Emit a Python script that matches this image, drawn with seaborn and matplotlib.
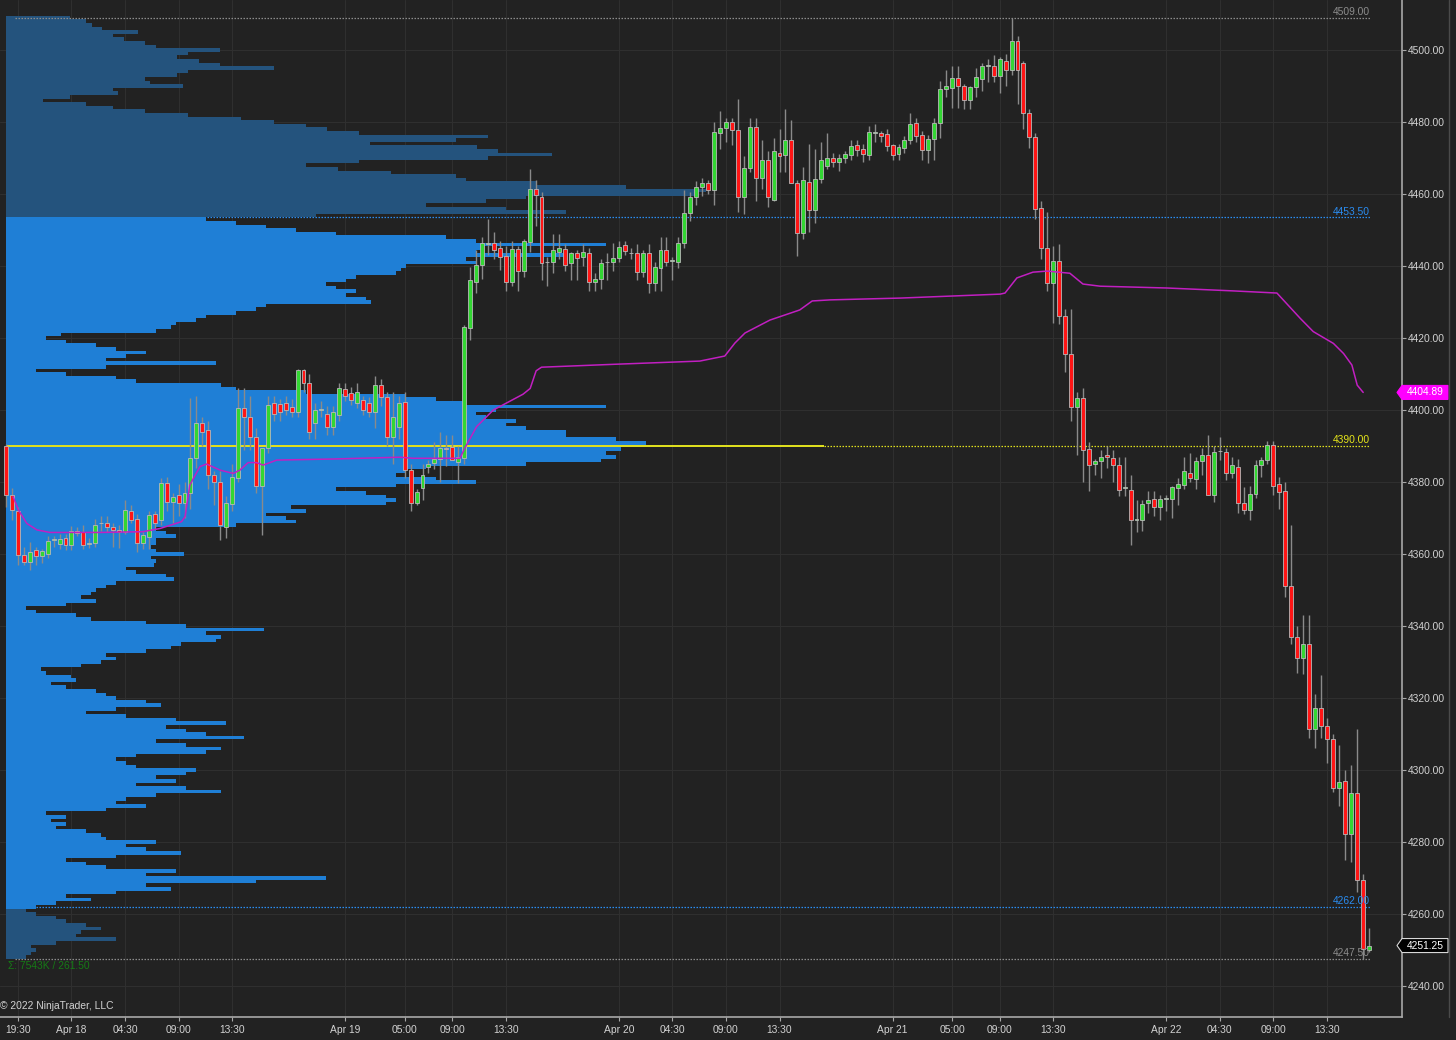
"""
ES 30 minute chart with session volume profile and VWAP, NinjaTrader look.
"""

import matplotlib
matplotlib.use("Agg")
import matplotlib.pyplot as plt
import matplotlib.transforms as mtransforms
from matplotlib.patches import Polygon
from matplotlib.lines import Line2D
import numpy as np
import seaborn as sns

# ---------------------------------------------------------------- data
bar_open = [
    4390, 4376.5, 4372, 4359.75, 4357.75, 4361, 4359.5, 4360, 4364, 4362.75,
    4364.5, 4362.5, 4366.5, 4366, 4362.75, 4363, 4368.5, 4368.5, 4367.5, 4366.75,
    4366, 4372, 4369.75, 4363, 4364.75, 4371, 4369.5, 4379.75, 4374.5, 4376.5,
    4374.25, 4377, 4386.75, 4396.5, 4394.5, 4382, 4380, 4367.5, 4374, 4381,
    4400.5, 4398, 4392.5, 4379, 4389.5, 4402, 4401.75, 4402, 4400.75, 4399.5,
    4411, 4407.5, 4396.5, 4400, 4399, 4395.25, 4398.5, 4405.75, 4404.75, 4402,
    4402.75, 4402, 4399.5, 4407, 4403.5, 4392.5, 4395.25, 4402.25, 4383.25, 4374.25,
    4378.25, 4384.25, 4385.25, 4386.5, 4389.5, 4389.75, 4385.5, 4386.75, 4422.75, 4435.5,
    4440.25, 4446.25, 4446.5, 4445, 4442.75, 4435.5, 4444.75, 4438.75, 4446.75, 4461.5,
    4459.25, 4441, 4441, 4444, 4444.75, 4440.75, 4443.5, 4442.5, 4443.5, 4435.5,
    4436.5, 4441, 4441, 4442.25, 4445.75, 4443.5, 4443.5, 4438.25, 4443.5, 4435.25,
    4439.5, 4444.5, 4441.5, 4441, 4446.5, 4454.75, 4459.25, 4462, 4463, 4461,
    4477, 4478.25, 4480, 4477.75, 4459.25, 4467.25, 4478.5, 4464.5, 4469.5, 4458.25,
    4471.5, 4470.75, 4475, 4463, 4449.25, 4463.25, 4455.5, 4464.25, 4467.75, 4470,
    4469, 4470, 4470.75, 4473.5, 4472.5, 4470.75, 4477, 4477, 4476.75, 4473.5,
    4471, 4472.75, 4475, 4479.75, 4476.5, 4472.25, 4475.25, 4479.75, 4489.25, 4489.5,
    4492.25, 4490, 4486, 4489.75, 4492, 4495.5, 4495.5, 4492.75, 4497, 4494.5,
    4502.5, 4496.5, 4482.5, 4475.75, 4456, 4445, 4435.25, 4441.5, 4426, 4415.5,
    4400.75, 4403.25, 4389.25, 4385, 4385.75, 4387.5, 4386.75, 4384.75, 4378.25, 4377.75,
    4369.5, 4369.5, 4374.25, 4375.25, 4373, 4375.25, 4375.25, 4378.25, 4379.25, 4382.5,
    4380.75, 4385.75, 4387.5, 4376.5, 4388.5, 4388.25, 4382.5, 4384.25, 4374.25, 4372.25,
    4376.75, 4384.75, 4386.25, 4390.25, 4379.5, 4377.5, 4351, 4337, 4331.25, 4335,
    4311.5, 4317.25, 4312.25, 4308.5, 4295, 4297, 4282.25, 4293.5, 4269.5, 4250,
]
bar_high = [
    4390.5, 4378.25, 4373, 4362, 4363.25, 4362, 4361.5, 4365, 4365, 4365.5,
    4365.5, 4367.75, 4367.5, 4368, 4364.5, 4369.75, 4370.5, 4370.5, 4368.5, 4368,
    4375, 4373.5, 4371, 4366, 4372, 4372, 4381, 4381.5, 4377, 4379.5,
    4380, 4403.25, 4404, 4398, 4397, 4383, 4383, 4376, 4385, 4406,
    4406, 4404, 4395, 4389.5, 4404, 4404, 4403, 4404, 4403, 4411.5,
    4411.5, 4410, 4402, 4402.5, 4401, 4401, 4407.5, 4407.5, 4406.5, 4407.5,
    4404, 4403.5, 4409.5, 4408.5, 4405, 4405, 4404, 4405, 4385, 4378,
    4385, 4386, 4391, 4394, 4393, 4393, 4390, 4423.75, 4439.75, 4444.5,
    4448, 4453, 4449.5, 4447, 4445.5, 4447, 4445.5, 4447.5, 4467, 4464,
    4460.5, 4442.5, 4449, 4449, 4446, 4444, 4444.5, 4446, 4445, 4438,
    4442, 4443.5, 4446.5, 4447, 4447, 4445, 4446, 4444.5, 4446, 4441,
    4448, 4448, 4442.5, 4448, 4461, 4460.5, 4463.5, 4464.5, 4464, 4480,
    4483, 4481, 4481, 4486.5, 4470.5, 4481, 4481, 4475, 4472, 4475.5,
    4478, 4483.5, 4480.5, 4464, 4467.5, 4474, 4472.5, 4474.5, 4477, 4471.5,
    4471, 4472, 4475, 4475, 4474, 4479, 4479.5, 4477.5, 4478, 4474,
    4474, 4476, 4482.5, 4481, 4477.5, 4476.5, 4481, 4491.5, 4494.5, 4495.5,
    4495.5, 4490.5, 4490, 4495, 4496.5, 4497.5, 4498.5, 4498, 4499, 4509,
    4504, 4497, 4483.5, 4477, 4458, 4455, 4445.5, 4446, 4428, 4428,
    4405, 4406, 4391, 4386.5, 4389, 4390, 4389, 4387, 4387, 4382,
    4375, 4375, 4377.5, 4377.5, 4376.5, 4376.5, 4379, 4381, 4387, 4388,
    4387, 4389.5, 4393, 4390, 4392.5, 4389.5, 4387, 4386.5, 4378.5, 4379,
    4386, 4387, 4391.5, 4391.5, 4381.5, 4380, 4368, 4340, 4343, 4343,
    4321, 4326.5, 4314.5, 4310, 4307, 4300, 4301.5, 4311.5, 4271, 4256,
]
bar_low = [
    4373, 4369.5, 4357, 4357, 4355.5, 4357, 4357.5, 4359, 4362, 4361.5,
    4361.25, 4361, 4365, 4361.5, 4361.75, 4362, 4366.5, 4366, 4362, 4361.75,
    4365.5, 4368.5, 4360.5, 4361.5, 4361.5, 4367, 4368, 4372, 4368.5, 4370.5,
    4370, 4372.5, 4384, 4390, 4378, 4373.5, 4364, 4364.5, 4372, 4380,
    4389, 4389, 4377, 4365.25, 4388, 4397, 4397, 4398.5, 4398, 4398,
    4405, 4392, 4392, 4398, 4393, 4393, 4397, 4402.5, 4401.5, 4400.5,
    4398.5, 4398, 4395, 4401, 4390, 4385, 4392, 4381, 4372, 4373.5,
    4375, 4382.5, 4383.5, 4380, 4384.5, 4386, 4379.75, 4385, 4419.5, 4432.5,
    4436.5, 4443, 4442, 4439, 4433, 4434.5, 4433, 4437, 4444, 4451,
    4436, 4434.5, 4438, 4442, 4438.5, 4436, 4436, 4440, 4433, 4433,
    4433.5, 4436, 4438.5, 4441, 4443, 4442, 4436, 4437, 4432.5, 4433,
    4433, 4440, 4436, 4439.5, 4445, 4452.5, 4457, 4459.5, 4460, 4457,
    4472.5, 4474.5, 4473.5, 4455, 4454.5, 4466, 4458, 4461.5, 4456.5, 4458,
    4466, 4466, 4463, 4442.75, 4447.5, 4449.5, 4452, 4463, 4467, 4467.5,
    4466.5, 4468.5, 4469.5, 4470.5, 4469, 4469.5, 4474.5, 4474.5, 4472, 4469.5,
    4469.5, 4471.5, 4474, 4474.5, 4469.5, 4468.5, 4469.5, 4475.5, 4487, 4484,
    4484, 4483.5, 4483.5, 4487, 4488.5, 4491, 4491, 4488, 4490, 4493,
    4485, 4478, 4472.75, 4453, 4442, 4433, 4424.25, 4424, 4410.5, 4397,
    4387.5, 4380, 4377.5, 4382, 4381, 4384, 4380, 4376, 4376, 4362.5,
    4366, 4366.5, 4371.5, 4370.5, 4369.5, 4372, 4370, 4373.5, 4378, 4380,
    4378, 4382, 4376.5, 4374.5, 4386, 4380.5, 4381, 4371.5, 4371, 4369.5,
    4375.5, 4381.5, 4385, 4376.5, 4372.5, 4348, 4335, 4327, 4326.75, 4309,
    4306, 4309, 4302, 4294, 4290, 4275, 4274.5, 4266, 4247.5, 4249.5,
]
bar_close = [
    4376.5, 4372.25, 4359.75, 4357.75, 4360.5, 4359.5, 4360.75, 4363.5, 4364.25, 4364.25,
    4362.5, 4366.5, 4365.75, 4362.5, 4363, 4368, 4368.5, 4367.5, 4366.75, 4366.25,
    4372.25, 4369.5, 4363, 4365.25, 4370.75, 4368.5, 4379.75, 4374.5, 4375.75, 4374.25,
    4377, 4386.75, 4396.5, 4394, 4382, 4380, 4368, 4374.25, 4381.5, 4400.5,
    4398, 4392.5, 4379, 4389.5, 4401.5, 4399, 4399.5, 4400, 4399.5, 4411,
    4407.5, 4394, 4400, 4400.25, 4395.25, 4399.5, 4406, 4404, 4402.75, 4405,
    4400, 4399.5, 4407, 4403.5, 4392.5, 4398, 4402, 4383.25, 4374.25, 4377.25,
    4382, 4385, 4386.5, 4389.5, 4389.25, 4386, 4387, 4423, 4436, 4440.25,
    4446.5, 4446.5, 4444.5, 4442.5, 4435.5, 4444.75, 4438.75, 4447, 4461.5, 4459.75,
    4440.75, 4441.25, 4444.5, 4445, 4440.25, 4443.5, 4442.25, 4444, 4435.5, 4436.5,
    4440.75, 4441.25, 4442.25, 4445.25, 4444.25, 4443.75, 4438.25, 4443.5, 4435.25, 4439.75,
    4444.5, 4441, 4441.75, 4446.5, 4454.75, 4459.25, 4462, 4463, 4461, 4477.25,
    4478.25, 4480, 4477.75, 4459.25, 4467.25, 4478.5, 4464.5, 4469.5, 4459.25, 4472,
    4470.5, 4475, 4463, 4449.25, 4464, 4455.5, 4464.25, 4469.5, 4470, 4469,
    4470, 4471, 4473.25, 4472.25, 4471, 4477.25, 4477, 4476, 4473.25, 4470.75,
    4473, 4475, 4479.5, 4476, 4472.25, 4475.25, 4479.75, 4489.25, 4490, 4492.25,
    4490, 4486, 4489.75, 4492.5, 4495.5, 4495.75, 4492.75, 4497.5, 4494.5, 4502.5,
    4494.5, 4482.5, 4475.75, 4455.75, 4445, 4435.25, 4441.5, 4426, 4415.5, 4400.75,
    4403.25, 4389, 4384.75, 4385.75, 4387, 4387, 4384.75, 4377.75, 4378.25, 4369.5,
    4369.5, 4374, 4375, 4373, 4375.25, 4375.5, 4378.5, 4379.5, 4383, 4381,
    4385.75, 4387.5, 4376.5, 4388.25, 4388.75, 4382.5, 4384.75, 4374.25, 4372.25, 4376.75,
    4384.75, 4386.25, 4390.25, 4379, 4377.25, 4351, 4337, 4331.25, 4335, 4311.5,
    4317.25, 4312.25, 4308.75, 4295, 4296.75, 4282.25, 4293.5, 4269.5, 4250.25, 4251.25,
]

# volume profile, one row per 1.0 point from the session low upward (relative volume)
profile_vol = [
    20, 25, 30, 25, 50, 110, 70, 75, 95, 80,
    60, 50, 30, 20, 30, 50, 85, 60, 110, 165,
    140, 250, 320, 140, 170, 100, 80, 60, 110, 175,
    140, 120, 150, 100, 95, 80, 50, 60, 45, 60,
    40, 100, 140, 110, 120, 150, 215, 180, 130, 170,
    150, 180, 190, 130, 120, 110, 130, 200, 215, 180,
    150, 238, 200, 180, 160, 220, 170, 120, 80, 110,
    155, 140, 110, 100, 90, 60, 45, 70, 65, 40,
    35, 75, 95, 110, 100, 140, 165, 175, 210, 215,
    200, 258, 180, 140, 85, 70, 30, 20, 60, 90,
    75, 85, 90, 100, 110, 168, 160, 130, 120, 148,
    150, 145, 178, 150, 145, 150, 150, 170, 160, 150,
    230, 290, 280, 260, 300, 285, 380, 390, 380, 360,
    330, 390, 470, 430, 390, 400, 420, 520, 595, 610,
    600, 615, 818, 640, 610, 560, 560, 520, 500, 510,
    480, 470, 490, 600, 460, 430, 400, 300, 230, 215,
    130, 110, 60, 30, 100, 210, 100, 120, 140, 110,
    90, 60, 40, 55, 150, 165, 170, 190, 200, 230,
    250, 260, 365, 360, 340, 350, 330, 320, 340, 350,
    390, 395, 400, 470, 460, 560, 470, 475, 600, 470,
    440, 330, 290, 260, 230, 200, 310, 560, 500, 420,
    480, 520, 690, 700, 620, 530, 460, 450, 385, 332,
    300, 353, 482, 546, 492, 471, 364, 450, 482, 353,
    321, 300, 268, 235, 182, 139, 107, 80, 37, 64,
    112, 107, 177, 144, 139, 171, 182, 268, 214, 193,
    171, 182, 214, 150, 139, 118, 107, 132, 96, 86,
    80, 64,
]
session_low = 4247.5
session_high = 4509.0
value_area_low = 4262.0
value_area_high = 4453.5
poc_price = 4390.0
total_volume_k = 7543

# VWAP (bar index, price)
vwap_bar = [1.2, 2.1, 3.5, 5.2, 7.4, 15.8, 23, 25.9, 29.5, 30.1,
            30.9, 32.6, 33.7, 36, 38.2, 39.3, 40.7, 42.1, 43.2, 45.5,
            55, 66.2, 68.4, 76.3, 77.1, 79.1, 81.9, 86.9, 88.1, 89.1,
            90, 102.1, 116.6, 120.8, 122.5, 124.2, 128.4, 133.4, 135.5, 138.5,
            150.3, 167.1, 167.9, 169.9, 172.6, 175, 178.8, 181, 183.9, 195.1,
            206.2, 213.6, 217.5, 219.7, 223.1, 224.8, 226.2, 227.1, 228.1]
vwap_val = [4375.9, 4372.2, 4368.5, 4366.7, 4366, 4366, 4366.2, 4367.1, 4369, 4370.4,
            4379.2, 4384.3, 4385, 4383.3, 4382.4, 4383.3, 4385.4, 4385.4, 4384.7, 4386.1,
            4386.4, 4386.9, 4386.6, 4386.6, 4389.4, 4395.4, 4400, 4404.4, 4406, 4410.9,
            4411.9, 4412.7, 4413.6, 4415, 4418.6, 4421.4, 4425, 4427.8, 4430.3, 4430.6,
            4431.1, 4432.2, 4432.5, 4436.7, 4438.3, 4438.6, 4438, 4435, 4434.4, 4433.9,
            4433.1, 4432.5, 4425.5, 4421.8, 4418.5, 4415.7, 4412.5, 4406.9, 4404.89]
vwap_last = 4404.89
last_price = 4251.25

tick_bars = [2, 11, 20, 29, 38, 57, 67, 75, 84, 103, 112, 121, 130,
             149, 159, 167, 176, 195, 204, 213, 222]
tick_labels = ["19:30", "Apr 18", "04:30", "09:00", "13:30", "Apr 19", "05:00",
               "09:00", "13:30", "Apr 20", "04:30", "09:00", "13:30", "Apr 21",
               "05:00", "09:00", "13:30", "Apr 22", "04:30", "09:00", "13:30"]
price_ticks = [4240, 4260, 4280, 4300, 4320, 4340, 4360, 4380, 4400,
               4420, 4440, 4460, 4480, 4500]

# ---------------------------------------------------------------- style
BG = "#222222"
GRID = "#2f2f2f"
TXT = "#d2d2d2"
AXIS = "#a8a8a8"
VA_BLUE = "#1f7fd6"
OUT_BLUE = "#24537d"
POC_YELLOW = "#dede1e"
LEVEL_BLUE = "#2a8cf0"
LEVEL_GRAY = "#8c8c8c"
UP = "#33d633"
DOWN = "#ff1515"
VWAP = "#c21fc2"

sns.set_theme(style="dark", rc={
    "axes.facecolor": BG,
    "figure.facecolor": BG,
    "savefig.facecolor": BG,
    "axes.edgecolor": AXIS,
    "grid.color": GRID,
})
plt.rcParams["font.family"] = ["Liberation Sans Narrow", "Liberation Sans", "DejaVu Sans"]
FS = 7.4

W, H = 1456, 1040
fig = plt.figure(figsize=(W / 100, H / 100), dpi=100)
ax = fig.add_axes([0, 23 / H, 1402 / W, 1017 / H])

bar_px = 5.95  # pixel spacing between bars
ax.set_xlim(-6 / bar_px, 1396 / bar_px)
ax.set_ylim(4231.4, 4513.9)

# grid
ax.set_xticks(tick_bars)
ax.set_xticklabels(tick_labels)
ax.set_yticks(price_ticks)
ax.set_yticklabels([f"{p:.2f}" for p in price_ticks])
ax.grid(True, color=GRID, linewidth=0.8, zorder=0)
ax.set_axisbelow(True)

n_bars = len(bar_open)
line_end = n_bars - 0.8

# ---------------------------------------------------------------- volume profile
levels = session_low + 0.5 + np.arange(len(profile_vol))
vol = np.array(profile_vol, dtype=float)
colors = np.where((levels >= value_area_low) & (levels <= value_area_high), VA_BLUE, OUT_BLUE).astype(object)
poc_idx = int(np.argmin(np.abs(levels - poc_price)))
colors[poc_idx] = POC_YELLOW
# the POC row is drawn thin, its neighbours close the gap
row_h = np.ones(len(vol))
row_y = levels.copy()
row_h[poc_idx] = 0.55
for nb, sign in ((poc_idx - 1, 1), (poc_idx + 1, -1)):
    row_h[nb] = 1.225
    row_y[nb] += sign * 0.1125
ax.barh(row_y, vol / bar_px, height=row_h, left=0, color=list(colors),
        linewidth=0, antialiased=False, zorder=2)

# value area edges (under the profile) and session extremes
for price in (value_area_high, value_area_low):
    ax.hlines(price, 0, line_end, colors=LEVEL_BLUE, linestyles=(0, (1.2, 1.2)),
              linewidth=0.9, zorder=1)
for price in (session_high, session_low):
    ax.hlines(price, 1.5, line_end, colors=LEVEL_GRAY, linestyles=(0, (1.2, 1.2)),
              linewidth=0.9, zorder=3)
poc_len = vol[poc_idx] / bar_px
ax.hlines(poc_price, poc_len, line_end, colors=POC_YELLOW, linestyles=(0, (1.2, 1.2)),
          linewidth=0.9, zorder=3)

for price, col in ((session_high, LEVEL_GRAY), (value_area_high, LEVEL_BLUE),
                   (poc_price, "#e6e619"), (value_area_low, LEVEL_BLUE),
                   (session_low, LEVEL_GRAY)):
    ax.annotate(f"{price:.2f}", xy=(line_end, price), xytext=(0, 0.6),
                textcoords="offset points", ha="right", va="bottom",
                color=col, fontsize=FS, zorder=8)

ax.annotate(f"\u03a3: {total_volume_k}K / {session_high - session_low:.2f}",
            xy=(0.3, session_low), xytext=(0, -1.5), textcoords="offset points",
            ha="left", va="top", color="#167a16", fontsize=FS, zorder=8)

# ---------------------------------------------------------------- candles
idx = np.arange(n_bars)
o = np.array(bar_open)
c = np.array(bar_close)
hi = np.array(bar_high)
lo = np.array(bar_low)
up = c >= o
ax.vlines(idx, lo, hi, color="#8a8a8a", linewidth=1.0, zorder=4)
bottom = np.minimum(o, c)
height = np.maximum(np.abs(c - o), 0.25)
ax.bar(idx[up], height[up], bottom=bottom[up], width=0.66, color=UP,
       edgecolor="#b9b9b9", linewidth=0.6, zorder=5)
ax.bar(idx[~up], height[~up], bottom=bottom[~up], width=0.66, color=DOWN,
       edgecolor="#b9b9b9", linewidth=0.6, zorder=5)

# ---------------------------------------------------------------- VWAP
sns.lineplot(x=vwap_bar, y=vwap_val, ax=ax, color=VWAP, linewidth=1.1,
             estimator=None, sort=False, zorder=6)

# ---------------------------------------------------------------- axes
for side in ("top", "left"):
    ax.spines[side].set_visible(False)
for side in ("right", "bottom"):
    ax.spines[side].set_color(AXIS)
    ax.spines[side].set_linewidth(1.2)
ax.yaxis.tick_right()
ax.tick_params(axis="y", right=True, left=False, labelright=True, labelleft=False,
               length=3, width=0.8, color=AXIS, labelsize=FS, labelcolor=TXT, pad=1.5)
ax.tick_params(axis="x", bottom=True, length=3, width=0.8, color=AXIS,
               labelsize=FS, labelcolor=TXT, pad=3)
ax.set_xlabel("")
ax.set_ylabel("")

# price markers on the axis
trans = mtransforms.blended_transform_factory(ax.transAxes, ax.transData)
px = 1 / 1402
half = 7 / 3.6
for price, face, edge, label in ((vwap_last, "#ff00ff", "#ff00ff", f"{vwap_last:.2f}"),
                                 (last_price, "#000000", "#d8d8d8", f"{last_price:.2f}")):
    pts = [(1 - 5 * px, price), (1 + 0 * px, price + half), (1 + 46 * px, price + half),
           (1 + 46 * px, price - half), (1 + 0 * px, price - half)]
    ax.add_patch(Polygon(pts, closed=True, transform=trans, facecolor=face,
                         edgecolor=edge, linewidth=0.8, clip_on=False, zorder=9))
    ax.text(1 + 23 * px, price, label, transform=trans, ha="center", va="center",
            color="white", fontsize=FS, clip_on=False, zorder=10)

fig.add_artist(Line2D([1449 / W, 1449 / W], [23 / H, 1], color="#4a4a4a", linewidth=1))

fig.text(0.5 / W, 1 - 1006 / H, "\u00a9 2022 NinjaTrader, LLC", ha="left", va="center",
         color=TXT, fontsize=FS)

fig.savefig("out.png", dpi=100, facecolor=BG)
